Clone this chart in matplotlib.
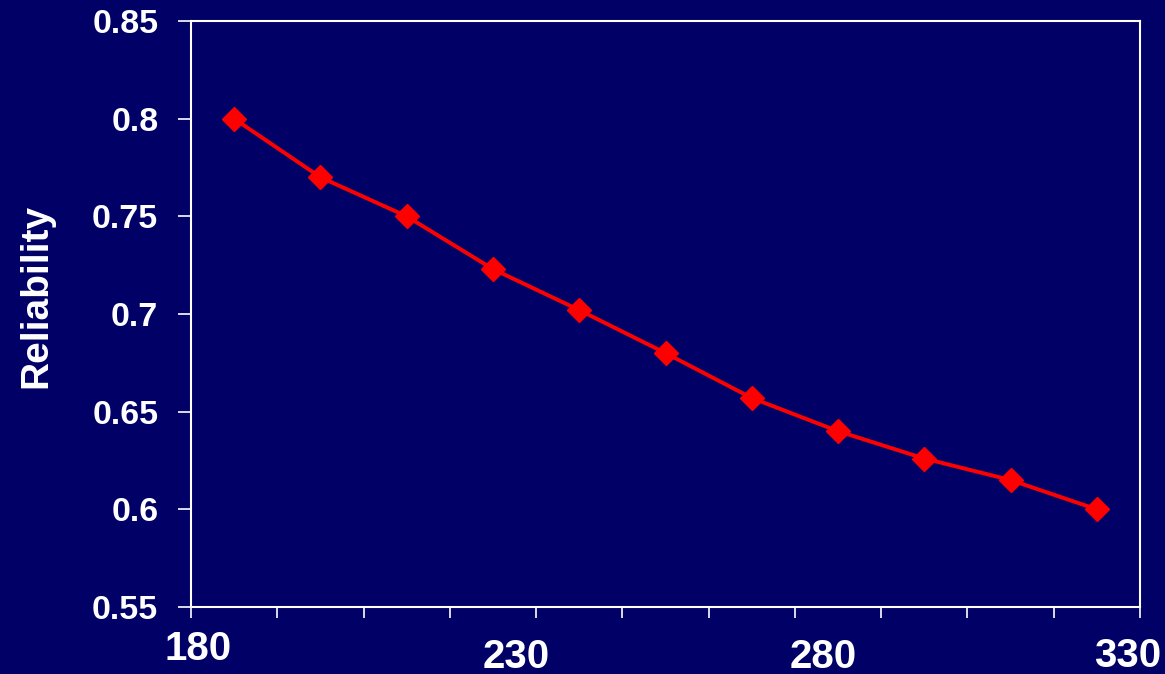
import matplotlib.pyplot as plt
import numpy as np

# data
reliability = [0.800, 0.770, 0.750, 0.723, 0.702, 0.680, 0.657, 0.640, 0.626, 0.615, 0.600]
x_labels = ["180", "230", "280", "330"]
y_ticks = [0.55, 0.6, 0.65, 0.7, 0.75, 0.8, 0.85]
y_tick_labels = ["0.55", "0.6", "0.65", "0.7", "0.75", "0.8", "0.85"]

navy = "#000066"
plt.rcParams['font.family'] = ['Liberation Sans', 'DejaVu Sans']

fig = plt.figure(figsize=(11.65, 6.74), dpi=100, facecolor=navy)
ax = fig.add_axes([191 / 1165, 67 / 674, 949 / 1165, 586 / 674])
ax.set_facecolor(navy)

x = np.arange(len(reliability))
ax.plot(x, reliability, color="red", lw=2.8, marker="D", ms=12.5,
        mec="red", mfc="red", zorder=3)

ax.set_xlim(-0.5, len(reliability) - 0.5)
ax.set_ylim(0.55, 0.85)
ax.set_yticks(y_ticks)
ax.set_yticklabels(y_tick_labels, fontsize=24.5, fontweight="bold", color="white")
ax.set_xticks(np.arange(-0.5, len(reliability), 1.0))
ax.set_xticklabels([])
ax.tick_params(axis="y", direction="out", length=9.5, width=1.2, color="white", pad=14)
ax.tick_params(axis="x", direction="out", length=8, width=1.2, color="white")
for s in ax.spines.values():
    s.set_color("white")
    s.set_linewidth(1.5)

ax.set_ylabel("Reliability", fontsize=28, fontweight="bold", color="white")
ax.yaxis.set_label_coords(-0.144, 0.531)

# x labels are loose text boxes in the original, staggered a bit
label_x = [-0.42, 3.27, 6.83, 10.36]
label_dy = [-30, -36, -36, -35]
for txt, lx, dy in zip(x_labels, label_x, label_dy):
    ax.annotate(txt, xy=(lx, 0), xycoords=("data", "axes fraction"),
                xytext=(0, dy), textcoords="offset points",
                ha="center", va="center", fontsize=29, fontweight="bold",
                color="white", annotation_clip=False)

fig.savefig("out.png", dpi=100, facecolor=navy)
